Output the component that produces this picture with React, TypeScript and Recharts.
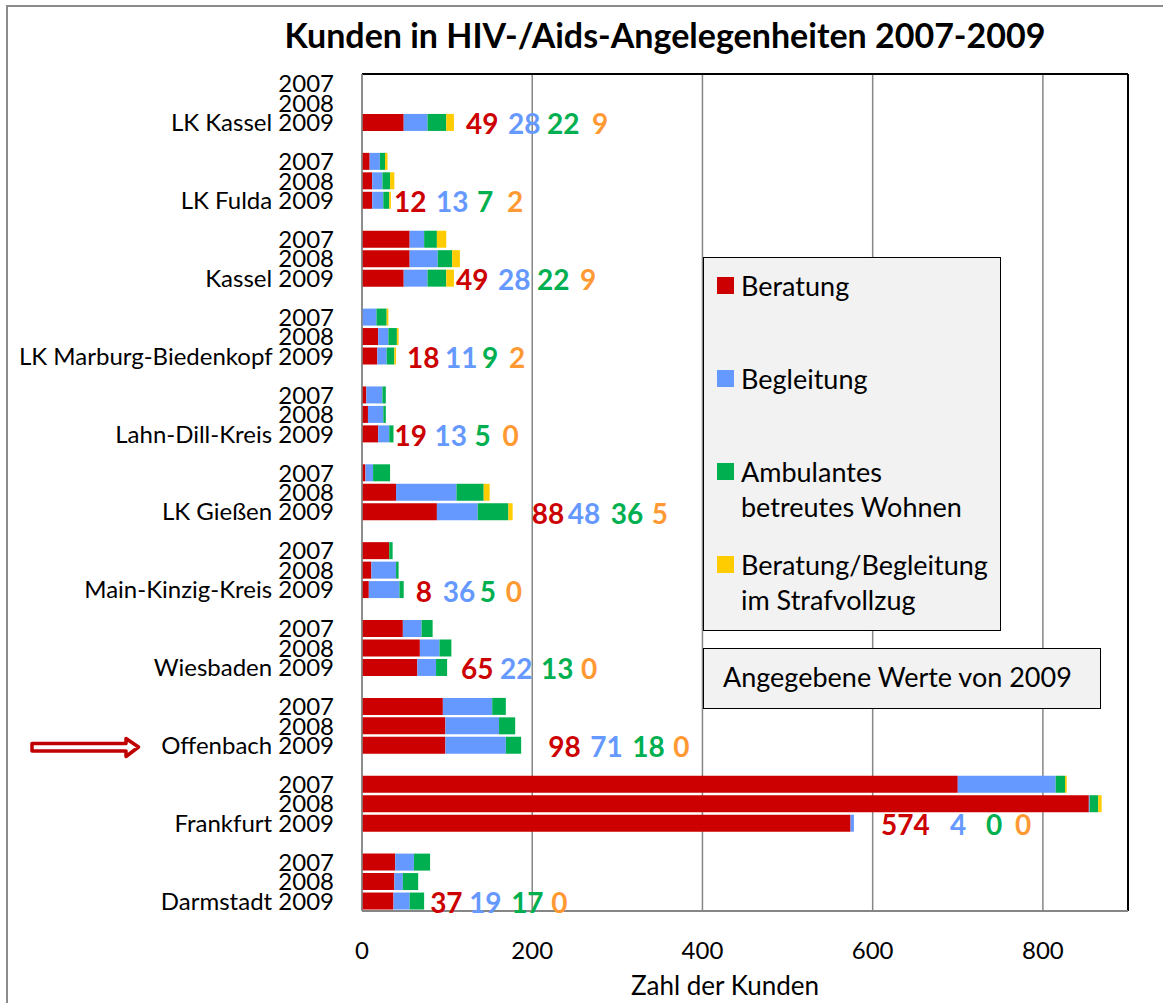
import React from 'react';
import { BarChart, Bar, XAxis, YAxis, CartesianGrid, Legend, LabelList } from 'recharts';

// ---------- data ----------
const TITLE = 'Kunden in HIV-/Aids-Angelegenheiten 2007-2009';
const X_LABEL = 'Zahl der Kunden';
const NOTE = 'Angegebene Werte von 2009';
const REGIONS = [
  'LK Kassel', 'LK Fulda', 'Kassel', 'LK Marburg-Biedenkopf', 'Lahn-Dill-Kreis', 'LK Gießen',
  'Main-Kinzig-Kreis', 'Wiesbaden', 'Offenbach', 'Frankfurt', 'Darmstadt',
];
const YEARS = ['2007', '2008', '2009'];
const SERIES_NAMES = ['Beratung', 'Begleitung', 'Ambulantes\nbetreutes Wohnen', 'Beratung/Begleitung\nim Strafvollzug'];
// per region: 2007, 2008, 2009
const BERATUNG = [0, 0, 49, 9, 12, 12, 56, 56, 49, 0, 19, 18, 5, 7, 19, 4, 40, 88, 32, 11, 8, 48, 68, 65, 95, 98, 98, 700, 854, 574, 39, 38, 37];
const BEGLEITUNG = [0, 0, 28, 12, 12, 13, 17, 33, 28, 17, 12, 11, 19, 18, 13, 9, 71, 48, 0, 29, 36, 22, 23, 22, 58, 63, 71, 115, 1, 4, 22, 10, 19];
const AMBULANT = [0, 0, 22, 6, 9, 7, 15, 17, 22, 12, 10, 9, 4, 3, 5, 20, 32, 36, 4, 3, 5, 13, 14, 13, 16, 19, 18, 11, 10, 0, 19, 18, 17];
const STRAF = [0, 0, 9, 3, 5, 2, 11, 9, 9, 2, 2, 2, 0, 0, 0, 0, 7, 5, 0, 0, 0, 0, 0, 0, 0, 0, 0, 2, 4, 0, 0, 0, 0];
const X_TICKS = [0, 200, 400, 600, 800];
const X_MAX = 900;

// ---------- styles / layout ----------
const FONT = "Lato, 'Open Sans', sans-serif";
const COLORS = ['#CC0000', '#6699FF', '#00B050', '#FFCC00'];
const LABEL_COLORS = ['#CC0000', '#6699FF', '#00B050', '#FF9933'];
const KEYS = ['beratung', 'begleitung', 'ambulant', 'straf'];
// horizontal offsets (px) of the 2009 value labels after the end of each stack
const LABEL_OFFSETS = [
  [12, 54, 93, 138], [3, 45, 86, 116], [2, 44, 83, 126], [11, 49, 86, 113], [1, 41, 81, 109],
  [19, 55, 98, 139], [12, 39, 76, 102], [14, 53, 94, 134], [27, 69, 111, 152], [27, 96, 132, 161], [6, 45, 87, 127],
];

type Row = { id: string; label: string; group: number; yearIdx: number; [k: string]: any };
const ROWS: Row[] = [];
REGIONS.forEach((region, r) => {
  YEARS.forEach((year, y) => {
    const i = r * 3 + y;
    ROWS.push({
      id: `r${r}y${y}`,
      label: y === 2 ? `${region} ${year}` : year,
      group: r,
      yearIdx: y,
      beratung: BERATUNG[i],
      begleitung: BEGLEITUNG[i],
      ambulant: AMBULANT[i],
      straf: STRAF[i],
    });
  });
  if (r < REGIONS.length - 1) ROWS.push({ id: `gap${r}`, label: '', group: r, yearIdx: -1 });
});
const ROW_BY_ID: Record<string, Row> = {};
ROWS.forEach((row) => { ROW_BY_ID[row.id] = row; });

const YTick = (props: any) => {
  const { x, y, payload } = props;
  const row = ROW_BY_ID[payload?.value];
  if (!row || !row.label) return null;
  return (
    <text x={x} y={y} dy={8.5} textAnchor="end" fontSize={24} fontFamily={FONT} fill="#000">
      {row.label}
    </text>
  );
};

// draws the four 2009 values after the last non-empty segment of the stack
const makeValueLabels = (seriesIdx: number) => (props: any) => {
  const vb = props.viewBox || {};
  const x = Number(props.x ?? vb.x);
  const y = Number(props.y ?? vb.y);
  const width = Number(props.width ?? vb.width ?? 0);
  const height = Number(props.height ?? vb.height ?? 0);
  const row = ROW_BY_ID[props.value];
  if (!row || row.yearIdx !== 2 || isNaN(x)) return null;
  if (!(row[KEYS[seriesIdx]] > 0)) return null;
  for (let k = seriesIdx + 1; k < KEYS.length; k++) if (row[KEYS[k]] > 0) return null;
  const end = x + width;
  const cy = y + height / 2;
  const offs = LABEL_OFFSETS[row.group];
  return (
    <text key={`lbl-${row.id}`} y={cy + 12} fontFamily={FONT} fontWeight={700} fontSize={28}>
      {KEYS.map((k, j) => (
        <tspan key={k} x={end + offs[j]} fill={LABEL_COLORS[j]}>{row[k]}</tspan>
      ))}
    </text>
  );
};
const LABEL_RENDERERS = KEYS.map((_, j) => makeValueLabels(j));

const LegendBox = (props: any) => {
  const payload = [...(props.payload || [])].sort(
    (a: any, b: any) => SERIES_NAMES.indexOf(a.value) - SERIES_NAMES.indexOf(b.value),
  );
  return (
    <div style={{
      width: 298, height: 374, boxSizing: 'border-box', background: '#f2f2f2', border: '1.5px solid #000',
      paddingTop: 10, fontFamily: FONT, fontSize: 27, color: '#000',
    }}>
      {payload.map((p: any, i: number) => (
        <div key={i} style={{ height: 93, display: 'flex', alignItems: 'flex-start' }}>
          <span style={{ display: 'inline-block', width: 17, height: 17, background: p.color, marginLeft: 13, marginTop: 9, flex: '0 0 auto' }} />
          <span style={{ marginLeft: 7, whiteSpace: 'pre-line', lineHeight: '35px' }}>{p.value}</span>
        </div>
      ))}
    </div>
  );
};

export default function App() {
  return (
    <div style={{ position: 'absolute', left: 0, top: 0, width: 1163, height: 1003, background: '#fff' }}>
      <BarChart
        width={1163}
        height={1003}
        data={ROWS}
        layout="vertical"
        margin={{ top: 74, right: 35, bottom: 0, left: 0 }}
        barCategoryGap={1}
      >
        <CartesianGrid horizontal={false} stroke="#868686" strokeWidth={1.5} />
        <CartesianGrid
          stroke="#000"
          strokeWidth={2}
          horizontalCoordinatesGenerator={(p: any) => (p && p.offset ? [p.offset.top] : [])}
          verticalCoordinatesGenerator={(p: any) => (p && p.offset ? [p.offset.left + p.offset.width] : [])}
        />
        <XAxis
          type="number"
          domain={[0, X_MAX]}
          ticks={X_TICKS}
          height={92}
          tickLine={false}
          tickSize={0}
          tickMargin={31}
          axisLine={{ stroke: '#868686', strokeWidth: 2 }}
          tick={{ fontSize: 24, fill: '#000', fontFamily: FONT }}
          label={{ value: X_LABEL, position: 'insideBottom', offset: 8, dx: -20, fontSize: 26, fill: '#000', fontFamily: FONT }}
        />
        <YAxis
          type="category"
          dataKey="id"
          width={362}
          interval={0}
          tickLine={false}
          tickSize={0}
          tickMargin={28}
          axisLine={{ stroke: '#868686', strokeWidth: 1.5 }}
          tick={<YTick />}
        />
        <Legend
          layout="vertical"
          align="center"
          verticalAlign="middle"
          content={<LegendBox />}
          wrapperStyle={{ position: 'absolute', left: 703, top: 257, width: 298, height: 374 }}
        />
        {KEYS.map((k, j) => (
          <Bar key={k} dataKey={k} name={SERIES_NAMES[j]} stackId="s" fill={COLORS[j]} isAnimationActive={false}>
            <LabelList dataKey="id" content={LABEL_RENDERERS[j]} />
          </Bar>
        ))}
      </BarChart>
      <div style={{
        position: 'absolute', left: 703, top: 648, width: 398, height: 61, boxSizing: 'border-box',
        background: '#f2f2f2', border: '1.5px solid #000', fontFamily: FONT, fontSize: 27, color: '#000',
        paddingLeft: 19, lineHeight: '56px', whiteSpace: 'nowrap',
      }}>{NOTE}</div>
      <svg width={1163} height={1003} style={{ position: 'absolute', left: 0, top: 0, pointerEvents: 'none' }}>
        <rect x={7} y={6} width={1200} height={1100} fill="none" stroke="#8c8c8c" strokeWidth={2} />
        <text x={665} y={48} textAnchor="middle" fontFamily={FONT} fontWeight={700} fontSize={34} fill="#000">{TITLE}</text>
        <path d="M32 743.5 H126 V738.5 L138.5 747 L126 756.5 V751 H32 Z" fill="#fff" stroke="#C00000" strokeWidth={3.5} strokeLinejoin="round" />
      </svg>
    </div>
  );
}
